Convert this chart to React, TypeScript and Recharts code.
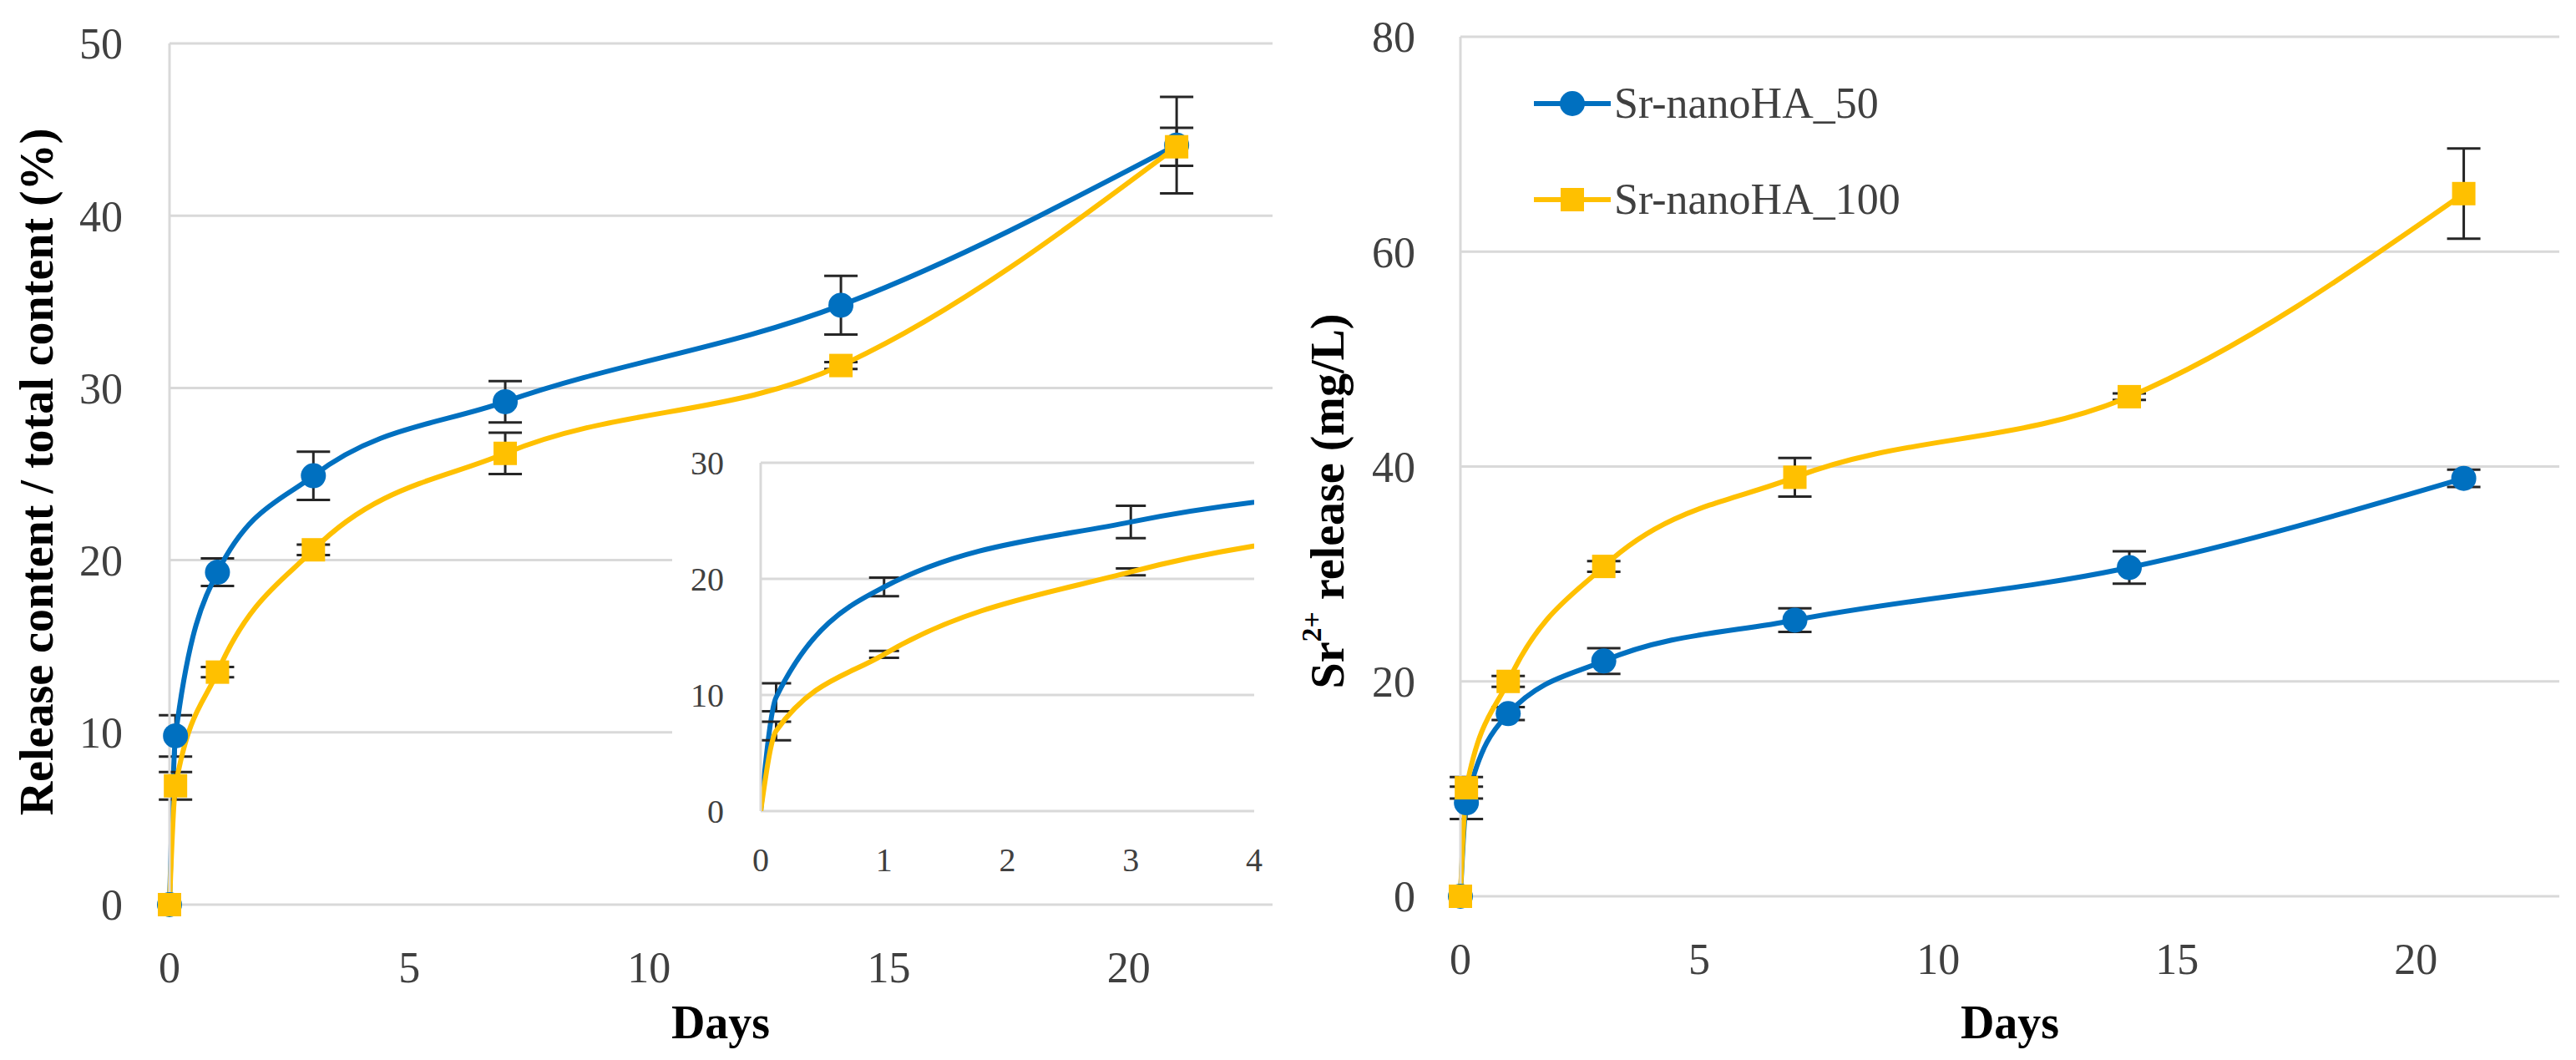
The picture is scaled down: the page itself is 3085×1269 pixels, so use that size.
import React from "react";
import { LineChart, Line, XAxis, YAxis, CartesianGrid, ErrorBar, Legend, Label } from "recharts";

// sampling times (days)
const days = [0, 0.125, 1, 3, 7, 14, 21];

// left panel: release content / total content (%)
const relSr50 = [0, 9.8, 19.3, 24.9, 29.2, 34.8, 44.1];
const relSr50Err = [0, 1.2, 0.8, 1.4, 1.2, 1.7, 2.8];
const relSr100 = [0, 6.9, 13.5, 20.6, 26.2, 31.3, 44.0];
const relSr100Err = [0, 0.8, 0.3, 0.3, 1.2, 0.2, 1.1];

// right panel: Sr2+ release (mg/L)
const srSr50 = [0, 8.7, 17.0, 21.9, 25.7, 30.6, 38.9];
const srSr50Err = [0, 1.5, 0.6, 1.2, 1.1, 1.5, 0.8];
const srSr100 = [0, 10.1, 20.0, 30.7, 39.0, 46.5, 65.4];
const srSr100Err = [0, 1.0, 0.5, 0.5, 1.8, 0.3, 4.2];

const seriesNames = ["Sr-nanoHA_50", "Sr-nanoHA_100"];

const dayTicks = [0, 5, 10, 15, 20];
const relTicks = [0, 10, 20, 30, 40, 50];
const srTicks = [0, 20, 40, 60, 80];
const insetDayTicks = [0, 1, 2, 3, 4];
const insetTicks = [0, 10, 20, 30];

const BLUE = "#0070C0";
const GOLD = "#FFC000";
const GRID = "#d9d9d9";
const TICK = "#404040";
const ERR = "#262626";
const FONT = "'Liberation Serif', 'Times New Roman', serif";

const relData = days.map((d, i) => ({
  day: d, sr50: relSr50[i], sr50Err: relSr50Err[i], sr100: relSr100[i], sr100Err: relSr100Err[i],
}));
// inset shows the first 4 days; error bars beyond that are off-panel
const insetData = relData.map((r) => ({
  ...r,
  sr50Err: r.day <= 4 ? r.sr50Err : undefined,
  sr100Err: r.day <= 4 ? r.sr100Err : undefined,
}));
const srData = days.map((d, i) => ({
  day: d, sr50: srSr50[i], sr50Err: srSr50Err[i], sr100: srSr100[i], sr100Err: srSr100Err[i],
}));

const SquareDot = (props: any) => {
  const { cx, cy, index } = props;
  if (cx == null || cy == null) return <g key={`sq-${index}`} />;
  return <rect key={`sq-${index}`} x={cx - 14} y={cy - 14} width={28} height={28} fill={GOLD} />;
};

const circleDot = { r: 15, fill: BLUE, stroke: BLUE, strokeWidth: 0 };

const tickStyle = { fill: TICK, fontSize: 52, fontFamily: FONT };
const insetTickStyle = { fill: TICK, fontSize: 40, fontFamily: FONT };

function AxisTitle({ x, y, rotate, children }: { x: number; y: number; rotate?: boolean; children: React.ReactNode }) {
  return (
    <text
      x={x}
      y={y}
      transform={rotate ? `rotate(-90 ${x} ${y})` : undefined}
      textAnchor="middle"
      dominantBaseline="central"
      fontFamily={FONT}
      fontWeight="bold"
      fontSize={56}
      fill="#000"
    >
      {children}
    </text>
  );
}

const renderLegend = (props: any) => {
  const items = [...(props.payload || [])].sort(
    (a: any, b: any) => seriesNames.indexOf(a.value) - seriesNames.indexOf(b.value)
  );
  return (
    <div style={{ fontFamily: FONT, fontSize: 52, color: TICK }}>
      {items.map((p: any, i: number) => (
        <div key={i} style={{ display: "flex", alignItems: "center", height: 115, whiteSpace: "nowrap" }}>
          <svg width={92} height={40}>
            <line x1={0} y1={20} x2={92} y2={20} stroke={p.color} strokeWidth={6} />
            {p.dataKey === "sr50" ? (
              <circle cx={46} cy={20} r={15} fill={p.color} />
            ) : (
              <rect x={32} y={6} width={28} height={28} fill={p.color} />
            )}
          </svg>
          <span style={{ marginLeft: 4 }}>{p.value}</span>
        </div>
      ))}
    </div>
  );
};

export default function App() {
  return (
    <div style={{ position: "absolute", left: 0, top: 0, width: 3085, height: 1269, background: "#fff" }}>
      {/* left panel */}
      <div style={{ position: "absolute", left: 0, top: 0 }}>
        <LineChart width={1540} height={1269} data={relData} margin={{ top: 52, right: 16, bottom: 36, left: 0 }}>
          <CartesianGrid vertical={false} stroke={GRID} strokeWidth={3} />
          <XAxis
            type="number" dataKey="day" domain={[0, 23]} ticks={dayTicks} height={150}
            axisLine={false} tickLine={false} tickSize={0} tickMargin={56} tick={tickStyle}
          >
            <Label content={() => <AxisTitle x={863} y={1224}>Days</AxisTitle>} />
          </XAxis>
          <YAxis
            type="number" domain={[0, 50]} ticks={relTicks} width={203}
            axisLine={{ stroke: GRID, strokeWidth: 3 }} tickLine={false} tickSize={0} tickMargin={56} tick={tickStyle}
          >
            <Label content={() => <AxisTitle x={44} y={565} rotate>Release content / total content (%)</AxisTitle>} />
          </YAxis>
          <Line type="monotone" dataKey="sr50" name={seriesNames[0]} stroke={BLUE} strokeWidth={6} dot={circleDot} activeDot={false} isAnimationActive={false}>
            <ErrorBar dataKey="sr50Err" direction="y" width={20} stroke={ERR} strokeWidth={3} />
          </Line>
          <Line type="monotone" dataKey="sr100" name={seriesNames[1]} stroke={GOLD} strokeWidth={6} dot={SquareDot} activeDot={false} isAnimationActive={false}>
            <ErrorBar dataKey="sr100Err" direction="y" width={20} stroke={ERR} strokeWidth={3} />
          </Line>
        </LineChart>
      </div>

      {/* inset: first 4 days */}
      <div style={{ position: "absolute", left: 805, top: 510, background: "#fff" }}>
        <LineChart width={725} height={545} data={insetData} margin={{ top: 44, right: 28, bottom: 0, left: 0 }}>
          <CartesianGrid vertical={false} stroke={GRID} strokeWidth={3} />
          <XAxis
            type="number" dataKey="day" domain={[0, 4]} ticks={insetDayTicks} allowDataOverflow height={84}
            axisLine={false} tickLine={false} tickSize={0} tickMargin={44} tick={insetTickStyle}
          />
          <YAxis
            type="number" domain={[0, 30]} ticks={insetTicks} allowDataOverflow width={106}
            axisLine={{ stroke: GRID, strokeWidth: 3 }} tickLine={false} tickSize={0} tickMargin={44} tick={insetTickStyle}
          />
          <Line type="monotone" dataKey="sr50" stroke={BLUE} strokeWidth={6} dot={false} activeDot={false} isAnimationActive={false}>
            <ErrorBar dataKey="sr50Err" direction="y" width={18} stroke={ERR} strokeWidth={3} />
          </Line>
          <Line type="monotone" dataKey="sr100" stroke={GOLD} strokeWidth={6} dot={false} activeDot={false} isAnimationActive={false}>
            <ErrorBar dataKey="sr100Err" direction="y" width={18} stroke={ERR} strokeWidth={3} />
          </Line>
        </LineChart>
      </div>

      {/* right panel */}
      <div style={{ position: "absolute", left: 1545, top: 0 }}>
        <LineChart width={1540} height={1269} data={srData} margin={{ top: 44, right: 20, bottom: 46, left: 0 }}>
          <CartesianGrid vertical={false} stroke={GRID} strokeWidth={3} />
          <XAxis
            type="number" dataKey="day" domain={[0, 23]} ticks={dayTicks} height={150}
            axisLine={false} tickLine={false} tickSize={0} tickMargin={56} tick={tickStyle}
          >
            <Label content={() => <AxisTitle x={862} y={1224}>Days</AxisTitle>} />
          </XAxis>
          <YAxis
            type="number" domain={[0, 80]} ticks={srTicks} width={204}
            axisLine={{ stroke: GRID, strokeWidth: 3 }} tickLine={false} tickSize={0} tickMargin={54} tick={tickStyle}
          >
            <Label
              content={() => (
                <AxisTitle x={45} y={600} rotate>
                  Sr<tspan dy={-20} fontSize={34}>2+</tspan>
                  <tspan dy={20}> release (mg/L)</tspan>
                </AxisTitle>
              )}
            />
          </YAxis>
          <Legend
            layout="vertical" align="center" verticalAlign="middle"
            wrapperStyle={{ left: 292, top: 66, width: "auto" }}
            content={renderLegend}
          />
          <Line type="monotone" dataKey="sr50" name={seriesNames[0]} stroke={BLUE} strokeWidth={6} dot={circleDot} activeDot={false} isAnimationActive={false}>
            <ErrorBar dataKey="sr50Err" direction="y" width={20} stroke={ERR} strokeWidth={3} />
          </Line>
          <Line type="monotone" dataKey="sr100" name={seriesNames[1]} stroke={GOLD} strokeWidth={6} dot={SquareDot} activeDot={false} isAnimationActive={false}>
            <ErrorBar dataKey="sr100Err" direction="y" width={20} stroke={ERR} strokeWidth={3} />
          </Line>
        </LineChart>
      </div>
    </div>
  );
}
